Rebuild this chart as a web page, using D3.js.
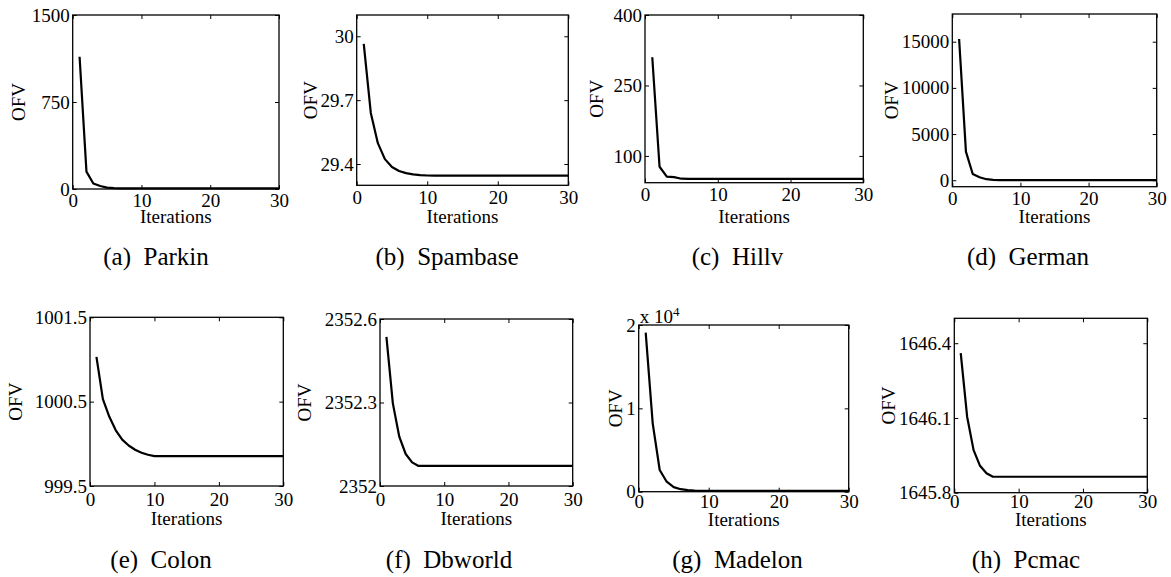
<!DOCTYPE html>
<html>
<head>
<meta charset="utf-8">
<script src="https://cdn.jsdelivr.net/npm/d3@7"></script>
<style>
  body { margin: 0; background: #fff; }
  svg { font-family: "Liberation Serif", "Times New Roman", Times, serif; }
</style>
</head>
<body>
<div id="chart"></div>
<script>
/* DATA */
const datasets = ["Parkin", "Spambase", "Hillv", "German", "Colon", "Dbworld", "Madelon", "Pcmac"];
const letters = ["a", "b", "c", "d", "e", "f", "g", "h"];

const iterations = [1, 2, 3, 4, 5, 6, 7, 8, 9, 10, 11, 12, 13, 14, 15, 16, 17, 18, 19, 20, 21, 22, 23, 24, 25, 26, 27, 28, 29, 30];
const xTicks = [0, 10, 20, 30];

const parkinOFV = [1140, 150, 48, 26, 12, 8, 6, 5, 5, 5, 5, 5, 5, 5, 5, 5, 5, 5, 5, 5, 5, 5, 5, 5, 5, 5, 5, 5, 5, 5];
const spambaseOFV = [29.964, 29.640, 29.498, 29.423, 29.386, 29.367, 29.357, 29.351, 29.348, 29.346, 29.345, 29.345, 29.345, 29.345, 29.345, 29.345, 29.345, 29.345, 29.345, 29.345, 29.345, 29.345, 29.345, 29.345, 29.345, 29.345, 29.345, 29.345, 29.345, 29.345];
const hillvOFV = [310, 77, 56, 55, 51.5, 51.3, 51.2, 51.1, 51, 51, 51, 51, 51, 51, 51, 51, 51, 51, 51, 51, 51, 51, 51, 51, 51, 51, 51, 51, 51, 51];
const germanOFV = [15290, 3100, 680, 325, 110, 45, 22, 14, 11, 10, 10, 10, 10, 10, 10, 10, 10, 10, 10, 10, 10, 10, 10, 10, 10, 10, 10, 10, 10, 10];
const colonOFV = [1001.03, 1000.53, 1000.32, 1000.16, 1000.05, 999.98, 999.93, 999.895, 999.87, 999.855, 999.855, 999.855, 999.855, 999.855, 999.855, 999.855, 999.855, 999.855, 999.855, 999.855, 999.855, 999.855, 999.855, 999.855, 999.855, 999.855, 999.855, 999.855, 999.855, 999.855];
const dbworldOFV = [2352.536, 2352.297, 2352.177, 2352.115, 2352.085, 2352.072, 2352.072, 2352.072, 2352.072, 2352.072, 2352.072, 2352.072, 2352.072, 2352.072, 2352.072, 2352.072, 2352.072, 2352.072, 2352.072, 2352.072, 2352.072, 2352.072, 2352.072, 2352.072, 2352.072, 2352.072, 2352.072, 2352.072, 2352.072, 2352.072];
const madelonOFV = [19080, 8200, 2600, 1200, 550, 300, 180, 130, 110, 100, 100, 100, 100, 100, 100, 100, 100, 100, 100, 100, 100, 100, 100, 100, 100, 100, 100, 100, 100, 100];
const pcmacOFV = [1646.36, 1646.104, 1645.971, 1645.908, 1645.878, 1645.864, 1645.864, 1645.864, 1645.864, 1645.864, 1645.864, 1645.864, 1645.864, 1645.864, 1645.864, 1645.864, 1645.864, 1645.864, 1645.864, 1645.864, 1645.864, 1645.864, 1645.864, 1645.864, 1645.864, 1645.864, 1645.864, 1645.864, 1645.864, 1645.864];

const series = [parkinOFV, spambaseOFV, hillvOFV, germanOFV, colonOFV, dbworldOFV, madelonOFV, pcmacOFV];

// y axis extents and tick values
const yDomains = [[0, 1500], [29.3, 30.1], [43, 400], [-700, 18000], [999.5, 1001.5], [2352, 2352.6], [0, 20000], [1645.8, 1646.5]];
const yTicks = [
  [0, 750, 1500],
  [29.4, 29.7, 30],
  [100, 250, 400],
  [0, 5000, 10000, 15000],
  [999.5, 1000.5, 1001.5],
  [2352, 2352.3, 2352.6],
  [0, 10000, 20000],
  [1645.8, 1646.1, 1646.4]
];

/* LAYOUT (pixel boxes of each subplot) */
const width = 1171, height = 577;
const boxes = [
  { left: 72.7, top: 15, right: 279, bottom: 189, ofvX: 25, capX: 156, capY: 265, xlabY: 223, pad: 5 },
  { left: 356.7, top: 15, right: 568.3, bottom: 185.3, ofvX: 316.7, capX: 447, capY: 265, xlabY: 223, pad: 5 },
  { left: 645, top: 15, right: 863.3, bottom: 182.7, ofvX: 603.3, capX: 737.5, capY: 265, xlabY: 223, pad: 5 },
  { left: 952.3, top: 14, right: 1156.7, bottom: 186.7, ofvX: 898, capX: 1028, capY: 265, xlabY: 223, pad: 5 },
  { left: 90, top: 317.3, right: 283.3, bottom: 486, ofvX: 21.7, capX: 161, capY: 568, xlabY: 525, pad: 7 },
  { left: 380, top: 319, right: 572.7, bottom: 486, ofvX: 310.7, capX: 449, capY: 568, xlabY: 525, pad: 7 },
  { left: 638.7, top: 325, right: 848.7, bottom: 491.7, ofvX: 621.7, capX: 737.5, capY: 568, xlabY: 526, pad: 3 },
  { left: 954.3, top: 318.3, right: 1147.3, bottom: 492.7, ofvX: 895, capX: 1026, capY: 568, xlabY: 526, pad: 2 }
];

const svg = d3.select("#chart")
  .append("svg")
  .attr("width", width)
  .attr("height", height);

const fontSize = 19;

datasets.forEach((name, i) => {
  const b = boxes[i];
  const g = svg.append("g").attr("class", "panel");

  const xScale = d3.scaleLinear().domain([0, 30]).range([b.left, b.right]);
  const yScale = d3.scaleLinear().domain(yDomains[i]).range([b.bottom, b.top]);

  // madelon is shown in units of 10^4
  const yFormat = i === 6 ? (d => String(d / 10000)) : (d => String(d));

  // + AXES (ticks point inward on all four sides, like matlab)
  const bottomAxis = g.append("g")
    .attr("transform", `translate(0,${b.bottom})`)
    .call(d3.axisBottom(xScale).tickValues(xTicks).tickSize(-4).tickPadding(b.pad).tickFormat(d => d));
  const topAxis = g.append("g")
    .attr("transform", `translate(0,${b.top})`)
    .call(d3.axisTop(xScale).tickValues(xTicks).tickSize(-4).tickFormat(""));
  const leftAxis = g.append("g")
    .attr("transform", `translate(${b.left},0)`)
    .call(d3.axisLeft(yScale).tickValues(yTicks[i]).tickSize(-4).tickPadding(3).tickFormat(yFormat));
  const rightAxis = g.append("g")
    .attr("transform", `translate(${b.right},0)`)
    .call(d3.axisRight(yScale).tickValues(yTicks[i]).tickSize(-4).tickFormat(""));

  [bottomAxis, topAxis, leftAxis, rightAxis].forEach(ax => {
    ax.select(".domain").remove();
    ax.attr("font-family", null).attr("font-size", null);
    ax.selectAll("line").attr("stroke", "#000").attr("stroke-width", 1);
    ax.selectAll("text").attr("fill", "#000").style("font-size", fontSize + "px");
  });

  // box
  g.append("rect")
    .attr("x", b.left)
    .attr("y", b.top)
    .attr("width", b.right - b.left)
    .attr("height", b.bottom - b.top)
    .attr("fill", "none")
    .attr("stroke", "#000")
    .attr("stroke-width", 1.3);

  // + LINE
  const line = d3.line()
    .x((d, j) => xScale(iterations[j]))
    .y(d => yScale(d));

  g.append("path")
    .datum(series[i])
    .attr("d", line)
    .attr("fill", "none")
    .attr("stroke", "#000")
    .attr("stroke-width", 2.2)
    .attr("stroke-linejoin", "round");

  // + LABELS
  g.append("text")
    .attr("transform", `translate(${b.ofvX},${(b.top + b.bottom) / 2}) rotate(-90)`)
    .attr("text-anchor", "middle")
    .style("font-size", fontSize + "px")
    .text("OFV");

  g.append("text")
    .attr("x", (b.left + b.right) / 2)
    .attr("y", b.xlabY)
    .attr("text-anchor", "middle")
    .style("font-size", fontSize + "px")
    .text("Iterations");

  g.append("text")
    .attr("x", b.capX)
    .attr("y", b.capY)
    .attr("text-anchor", "middle")
    .style("font-size", "25px")
    .text(`(${letters[i]})\u2002${name}`);

  if (i === 6) {
    const expo = g.append("text")
      .attr("x", b.left + 1)
      .attr("y", b.top - 2)
      .style("font-size", fontSize + "px")
      .text("x 10");
    expo.append("tspan")
      .attr("dy", -7)
      .style("font-size", "13px")
      .text("4");
  }
});
</script>
</body>
</html>
